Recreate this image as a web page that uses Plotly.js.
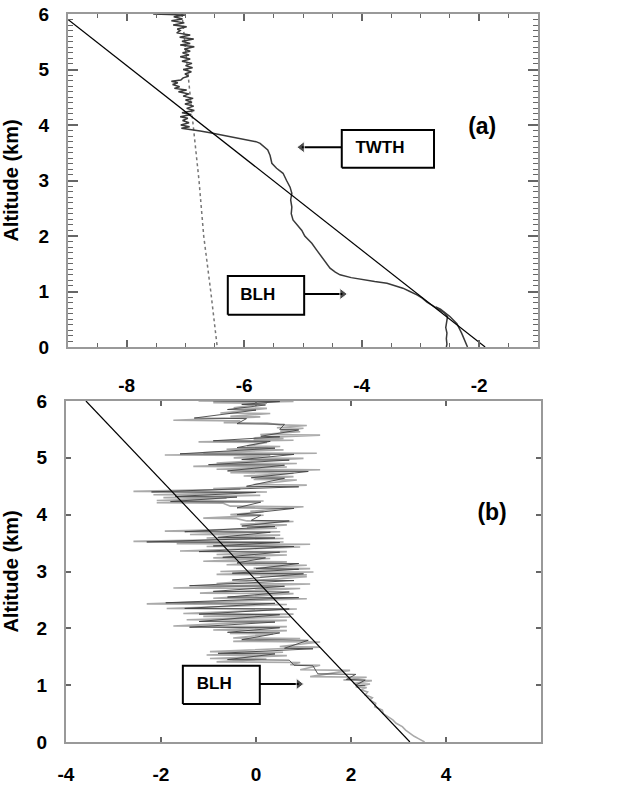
<!DOCTYPE html>
<html>
<head>
<meta charset="utf-8">
<script src="https://cdn.plot.ly/plotly-3.0.1.min.js"></script>
<style>html,body{margin:0;padding:0;background:#fff;}#chart{width:626px;height:785px;}</style>
</head>
<body>
<div id="chart"></div>
<script>
// ---------- Panel (a) data ----------
const aProfileY = [6.00,5.98,5.95,5.91,5.88,5.84,5.80,5.77,5.73,5.70,5.66,5.62,5.58,5.55,5.51,5.47,5.44,5.41,5.37,5.33,5.30,5.26,5.23,5.19,5.15,5.11,5.07,5.03,5.00,4.96,4.92,4.88,4.85,4.81,4.79,4.76,4.73,4.69,4.66,4.63,4.60,4.56,4.52,4.48,4.45,4.41,4.38,4.34,4.30,4.26,4.22,4.19,4.15,4.12,4.08,4.04,4.00,3.97,3.94,3.92,3.89,3.86,3.82,3.78,3.75,3.73,3.70,3.67,3.60,3.55,3.45,3.31,3.22,3.13,3.00,2.88,2.77,2.65,2.52,2.40,2.29,2.20,2.10,2.00,1.93,1.87,1.75,1.62,1.50,1.42,1.35,1.30,1.25,1.21,1.18,1.15,1.10,1.06,1.00,0.94,0.88,0.81,0.75,0.70,0.62,0.55,0.45,0.35,0.25,0.15,0.05,0.00];
const aProfileX = [-7.55,-7.01,-7.20,-7.05,-7.24,-7.02,-7.21,-6.98,-7.14,-7.09,-7.15,-6.92,-7.10,-6.86,-7.06,-6.92,-7.09,-6.85,-7.02,-6.92,-7.05,-6.94,-7.09,-6.92,-7.06,-6.89,-7.00,-6.88,-7.04,-6.90,-7.01,-6.95,-7.04,-7.08,-7.24,-7.13,-7.22,-7.10,-7.19,-6.98,-7.12,-6.94,-7.04,-6.87,-7.00,-6.89,-7.01,-6.86,-6.98,-6.85,-7.06,-6.90,-7.09,-6.96,-7.05,-6.94,-7.08,-6.93,-7.07,-6.90,-6.75,-6.58,-6.38,-6.19,-6.00,-5.90,-5.80,-5.73,-5.65,-5.60,-5.56,-5.53,-5.45,-5.34,-5.28,-5.22,-5.19,-5.21,-5.19,-5.20,-5.17,-5.10,-5.02,-4.97,-4.91,-4.85,-4.77,-4.68,-4.60,-4.54,-4.45,-4.37,-4.18,-3.98,-3.78,-3.57,-3.42,-3.30,-3.18,-3.06,-2.97,-2.89,-2.80,-2.72,-2.60,-2.54,-2.55,-2.57,-2.55,-2.56,-2.55,-2.56];
const aBranchY = [0.72,0.68,0.55,0.42,0.25,0.10,0.00];
const aBranchX = [-2.74,-2.66,-2.50,-2.38,-2.30,-2.24,-2.20];
const aDottedY = [6,5,4,3,2,1,0];
const aDottedX = [-7.06,-6.97,-6.87,-6.77,-6.69,-6.57,-6.46];
const aLineY = [5.9,0.0];
const aLineX = [-9.0,-1.9];
const aTickVals = [-8,-6,-4,-2];
const aTickText = ['-8','-6','-4','-2'];

// ---------- Panel (b) data ----------
const bLightY = [6.00,5.99,5.97,5.96,5.88,5.87,5.79,5.78,5.73,5.72,5.66,5.65,5.62,5.61,5.58,5.57,5.53,5.52,5.47,5.46,5.41,5.40,5.35,5.34,5.32,5.31,5.28,5.27,5.21,5.20,5.15,5.14,5.09,5.08,5.05,5.04,5.00,4.99,4.91,4.90,4.85,4.84,4.80,4.79,4.74,4.73,4.68,4.67,4.62,4.61,4.53,4.52,4.46,4.45,4.41,4.40,4.35,4.34,4.30,4.29,4.25,4.24,4.21,4.20,4.15,4.14,4.06,4.05,4.00,3.99,3.94,3.93,3.89,3.88,3.83,3.82,3.77,3.76,3.71,3.70,3.65,3.64,3.59,3.58,3.53,3.52,3.49,3.48,3.44,3.43,3.36,3.35,3.30,3.29,3.24,3.23,3.18,3.17,3.12,3.11,3.06,3.05,3.00,2.99,2.95,2.94,2.92,2.91,2.79,2.78,2.71,2.70,2.62,2.61,2.53,2.52,2.43,2.42,2.35,2.34,2.26,2.25,2.21,2.20,2.15,2.14,2.04,2.03,1.97,1.96,1.91,1.90,1.83,1.82,1.77,1.76,1.68,1.67,1.59,1.58,1.53,1.52,1.47,1.46,1.41,1.40,1.36,1.35,1.27,1.26,1.15,1.14,1.09,1.08,1.03,1.02,0.97,0.96,0.92,0.88,0.83,0.78,0.74,0.68,0.62,0.56,0.50,0.44,0.39,0.33,0.27,0.21,0.15,0.10,0.06,0.02,0.00];
const bLightX = [-1.21,0.79,-0.90,0.23,-0.47,0.23,-0.75,0.30,-0.54,0.09,-1.74,-0.33,-0.68,0.23,0.51,1.07,0.44,1.00,0.51,0.93,0.09,1.35,-0.05,0.58,-0.05,0.79,-1.21,0.23,-0.19,0.51,-0.62,0.58,-1.11,1.28,-1.92,0.30,-0.47,1.00,-0.83,0.86,-1.32,0.65,-0.83,1.35,-0.54,0.79,-0.26,0.79,-0.05,0.86,-0.05,1.07,-0.90,-0.33,-2.58,0.23,-2.16,0.09,-1.95,-0.62,-2.09,0.16,-2.09,-0.69,-0.54,1.00,-0.12,0.16,-0.54,0.16,-1.11,-0.41,-0.19,0.79,-0.33,0.65,-0.19,0.44,-1.92,0.51,-1.39,0.51,-1.04,0.58,-2.58,0.58,-1.67,1.14,-1.04,0.93,-1.60,0.65,-0.83,0.65,-0.90,0.30,-1.11,0.65,-0.62,1.07,-0.05,1.14,-0.75,1.21,-0.83,1.07,0.09,1.07,-0.83,1.14,-1.74,0.93,-1.18,0.79,-0.90,1.07,-2.30,0.65,-1.88,0.86,-1.53,0.79,-1.11,0.72,-1.46,0.65,-1.74,0.65,-0.90,0.65,-0.55,0.36,-0.48,0.93,-0.48,1.35,0.50,1.35,-0.97,0.57,-1.04,0.65,-0.97,0.22,-0.83,0.93,0.72,1.35,0.93,1.98,1.14,2.33,1.84,2.44,2.05,2.40,2.10,2.33,2.20,2.35,2.30,2.45,2.40,2.52,2.50,2.66,2.68,2.80,2.88,2.95,3.08,3.15,3.24,3.33,3.42,3.52,3.55];
const bDarkY = [6.00,5.99,5.94,5.93,5.85,5.84,5.70,5.69,5.60,5.59,5.50,5.49,5.38,5.37,5.30,5.29,5.18,5.17,5.07,5.06,4.97,4.96,4.88,4.87,4.77,4.76,4.65,4.64,4.50,4.49,4.40,4.39,4.32,4.31,4.23,4.22,4.12,4.11,4.00,3.99,3.90,3.89,3.80,3.79,3.70,3.69,3.60,3.59,3.52,3.51,3.45,3.44,3.35,3.34,3.25,3.24,3.15,3.14,3.05,3.04,2.97,2.96,2.85,2.84,2.75,2.74,2.65,2.64,2.55,2.54,2.45,2.44,2.35,2.34,2.25,2.24,2.12,2.11,2.02,2.01,1.93,1.92,1.80,1.79,1.65,1.64,1.56,1.55,1.45,1.44,1.35,1.34,1.20,1.19,1.10,1.09,1.00,0.99];
const bDarkX = [-0.9,0.5,-0.3,0.2,-0.6,0.0,-1.3,-0.2,-0.4,0.6,0.5,0.9,0.1,0.5,-0.9,0.3,-0.4,0.4,-1.6,0.8,-0.3,0.7,-1.0,0.6,-0.6,1.1,-0.1,0.6,-0.2,0.9,-2.2,0.0,-1.7,-0.4,-1.8,0.1,-0.4,0.8,-0.4,0.1,-0.1,0.7,-0.3,0.4,-1.5,0.3,-0.8,0.4,-2.3,0.5,-0.9,0.8,-1.2,0.5,-0.7,0.2,-0.4,0.9,0.0,0.9,-0.5,1.0,-0.5,0.8,-1.4,0.6,-0.9,0.7,-0.6,0.9,-1.9,0.4,-1.5,0.7,-1.2,0.5,-1.2,0.4,-1.4,0.5,-0.6,0.5,-0.3,1.1,0.6,1.2,-0.8,0.4,-0.6,0.7,0.8,1.2,1.3,2.1,1.9,2.3,2.1,2.3];
const bLineY = [6.0,0.0];
const bLineX = [-3.58,3.24];
const bTickVals = [-4,-2,0,2,4];
const bTickText = ['-4','-2','0','2','4'];

// ---------- Callout boxes, arrows and labels (axis units) ----------
const aTwthBoxX = [-4.34,-2.77,-2.77,-4.34,-4.34];
const aTwthBoxY = [3.23,3.23,3.91,3.91,3.23];
const aTwthArrowX = [-4.34,-5.02];
const aTwthArrowY = [3.60,3.60];
const aBlhBoxX = [-6.28,-4.98,-4.98,-6.28,-6.28];
const aBlhBoxY = [0.58,0.58,1.28,1.28,0.58];
const aBlhArrowX = [-4.98,-4.33];
const aBlhArrowY = [0.955,0.955];
const bBlhBoxX = [-1.54,0.08,0.08,-1.54,-1.54];
const bBlhBoxY = [0.67,0.67,1.34,1.34,0.67];
const bBlhArrowX = [0.08,0.90];
const bBlhArrowY = [1.02,1.02];
const aLabelX = [-3.69,-5.77];
const aLabelY = [3.57,0.93];
const aLabelText = ['TWTH','BLH'];
const aPanelX = [-1.95], aPanelY = [3.95], aPanelText = ['(a)'];
const bLabelX = [-0.88], bLabelY = [1.01], bLabelText = ['BLH'];
const bPanelX = [4.97], bPanelY = [4.0], bPanelText = ['(b)'];
const aUnitX = [-0.37], aUnitY = [-0.65], aUnitText = ['ABC(a.u.)'];
const bUnitX = [6.08], bUnitY = [-0.49], bUnitText = ['ABC (a.u.)'];

const FONT = 'Liberation Sans, Arial, Helvetica, sans-serif';
const TKC = '#666666';

function lineTr(x, y, xa, ya, color, width, dash) {
  return {x:x, y:y, xaxis:xa, yaxis:ya, mode:'lines', hoverinfo:'skip',
    line:{color:color, width:width, dash:dash || 'solid'}};
}
function boxTr(x, y, xa, ya) {
  return {x:x, y:y, xaxis:xa, yaxis:ya, mode:'lines', hoverinfo:'skip', cliponaxis:false,
    line:{color:'#000', width:2}};
}
function arrowTr(x, y, xa, ya, sym) {
  return {x:x, y:y, xaxis:xa, yaxis:ya, mode:'lines+markers', hoverinfo:'skip', cliponaxis:false,
    line:{color:'#000', width:2}, marker:{symbol:sym, size:[0,10], color:'#000'}};
}
function textTr(x, y, t, xa, ya, size) {
  return {x:x, y:y, text:t.map(s => '<b>' + s + '</b>'), xaxis:xa, yaxis:ya, mode:'text',
    hoverinfo:'skip', cliponaxis:false, textposition:'middle center',
    textfont:{family:FONT, size:size, color:'#000'}};
}

const traces = [
  lineTr(aDottedX, aDottedY, 'x', 'y', '#777', 1.5, 'dot'),
  lineTr(aProfileX, aProfileY, 'x', 'y', '#3a3a3a', 1.5),
  lineTr(aBranchX, aBranchY, 'x', 'y', '#3a3a3a', 1.5),
  lineTr(aLineX, aLineY, 'x', 'y', '#000', 1.2),
  lineTr(bLightX, bLightY, 'x2', 'y2', '#aaaaaa', 1.6),
  lineTr(bDarkX, bDarkY, 'x2', 'y2', '#444444', 0.9),
  lineTr(bLineX, bLineY, 'x2', 'y2', '#000', 1.2),
  boxTr(aTwthBoxX, aTwthBoxY, 'x', 'y'),
  boxTr(aBlhBoxX, aBlhBoxY, 'x', 'y'),
  boxTr(bBlhBoxX, bBlhBoxY, 'x2', 'y2'),
  arrowTr(aTwthArrowX, aTwthArrowY, 'x', 'y', 'triangle-left'),
  arrowTr(aBlhArrowX, aBlhArrowY, 'x', 'y', 'triangle-right'),
  arrowTr(bBlhArrowX, bBlhArrowY, 'x2', 'y2', 'triangle-right'),
  textTr(aLabelX, aLabelY, aLabelText, 'x', 'y', 17),
  textTr(aPanelX, aPanelY, aPanelText, 'x', 'y', 23),
  textTr(bLabelX, bLabelY, bLabelText, 'x2', 'y2', 17),
  textTr(bPanelX, bPanelY, bPanelText, 'x2', 'y2', 23),
  textTr(aUnitX, aUnitY, aUnitText, 'x', 'y', 19),
  textTr(bUnitX, bUnitY, bUnitText, 'x2', 'y2', 19)
];

const tickFont = {family:FONT, size:19, color:'#000', weight:'bold'};
const titleFont = {family:FONT, size:20, color:'#000', weight:'bold'};

const layout = {
  width:626, height:785,
  margin:{l:0, r:0, t:0, b:0},
  showlegend:false,
  xaxis:{
    domain:[68/626, 538/626], anchor:'y', range:[-9,-1],
    tickmode:'array', tickvals:aTickVals, ticktext:aTickText,
    ticks:'inside', ticklen:7, tickwidth:2, tickcolor:TKC,
    minor:{dtick:0.5, ticks:'inside', ticklen:4, tickwidth:1.3, tickcolor:TKC},
    showline:true, linecolor:'#999', linewidth:2, mirror:'ticks',
    showgrid:false, zeroline:false,
    tickfont:tickFont, ticklabelstandoff:20
  },
  yaxis:{
    domain:[1-347/785, 1-14/785], anchor:'x', range:[0,6], dtick:1,
    ticks:'inside', ticklen:10, tickwidth:2, tickcolor:TKC,
    minor:{dtick:0.1, ticks:'inside', ticklen:5, tickwidth:1.3, tickcolor:TKC},
    showline:true, linecolor:'#999', linewidth:2, mirror:'ticks',
    showgrid:false, zeroline:false,
    tickfont:tickFont, ticklabelstandoff:13,
    title:{text:'Altitude (km)', font:titleFont}
  },
  xaxis2:{
    domain:[66/626, 541/626], anchor:'y2', range:[-4,6],
    tickmode:'array', tickvals:bTickVals, ticktext:bTickText,
    ticks:'inside', ticklen:5, tickwidth:1.5, tickcolor:TKC,
    showline:true, linecolor:'#999', linewidth:2, mirror:'ticks',
    showgrid:false, zeroline:false,
    tickfont:tickFont, ticklabelstandoff:14
  },
  yaxis2:{
    domain:[1-742/785, 1-401/785], anchor:'x2', range:[0,6], dtick:1,
    ticks:'inside', ticklen:5, tickwidth:1.5, tickcolor:TKC,
    showline:true, linecolor:'#999', linewidth:2, mirror:'ticks',
    showgrid:false, zeroline:false,
    tickfont:tickFont, ticklabelstandoff:13,
    title:{text:'Altitude (km)', font:titleFont}
  }
};

Plotly.newPlot('chart', traces, layout, {displayModeBar:false});
</script>
</body>
</html>
